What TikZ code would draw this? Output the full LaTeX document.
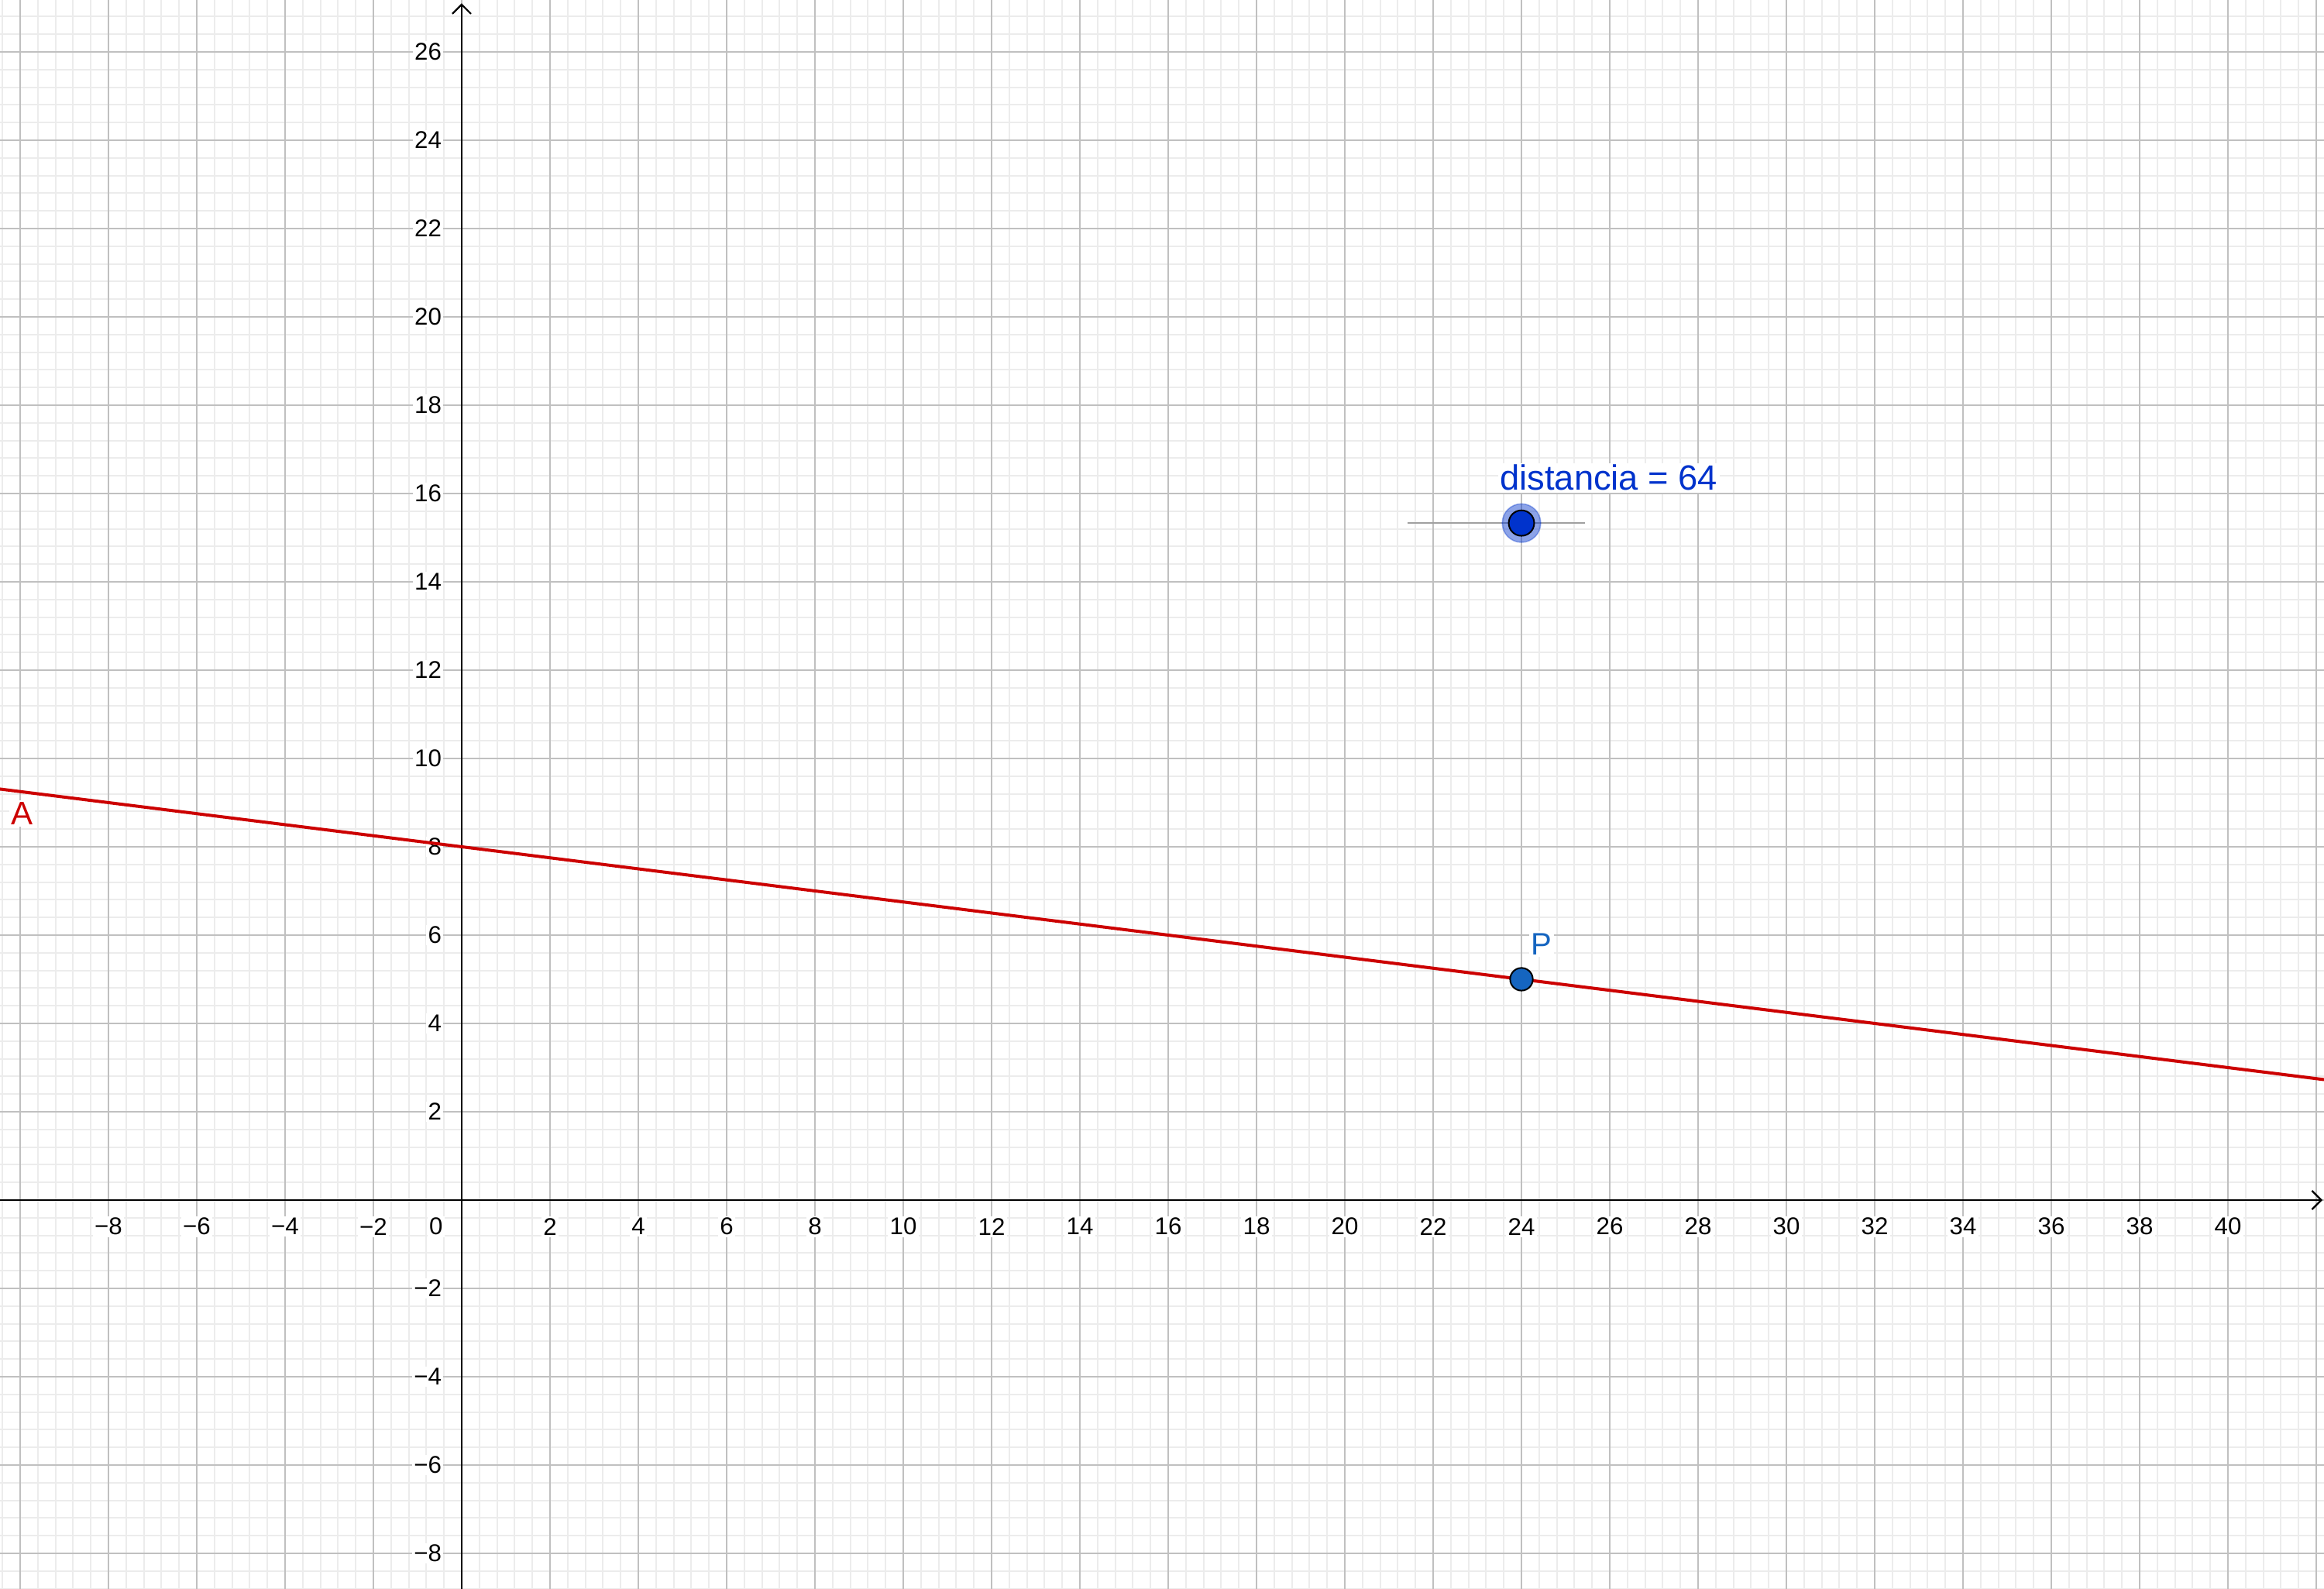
\documentclass[tikz,border=0pt]{standalone}
\usepackage{fontspec}
\setmainfont{Liberation Sans}
\usetikzlibrary{arrows.meta}
\definecolor{majorgrid}{RGB}{192,192,192}
\definecolor{minorgrid}{RGB}{236,236,236}
\definecolor{linered}{RGB}{204,0,0}
\definecolor{pblue}{RGB}{21,101,192}
\definecolor{sblue}{RGB}{0,51,204}
\definecolor{slidergray}{RGB}{160,160,160}
\begin{document}
\begin{tikzpicture}[x=0.5cm,y=0.5cm,
  ticklab/.style={font=\fontsize{7.8pt}{9pt}\selectfont, inner sep=0.6pt, fill=white, text=black},
  lab/.style={inner sep=0.6pt, fill=white},
  axisline/.style={black, line width=0.55pt, -{Straight Barb[length=3pt,width=6pt]}},
  gpoint/.style={circle, draw=black, line width=0.5pt, inner sep=0pt}]
\useasboundingbox (-10.456,-8.807) rectangle (42.175,27.175);
\fill[white] (-10.456,-8.807) rectangle (42.175,27.175);
% grid
\draw[minorgrid, line width=0.5pt, step=0.4] (-10.456,-8.807) grid (42.175,27.175);
\draw[majorgrid, line width=0.5pt, step=2] (-10.456,-8.807) grid (42.175,27.175);
% axes
\coordinate (xs) at (-10.456,0);
\coordinate (xe) at (42.14,0);
\coordinate (ys) at (0,-8.807);
\coordinate (ye) at (0,27.10);
\draw[axisline] (xs) -- (xe);
\draw[axisline] (ys) -- (ye);
% tick labels
\foreach \x in {8,6,4,2}
  \node[ticklab] (xlm\x) at (-\x,-0.6) {−\x};
\node[ticklab] (xl0) at (-0.58,-0.6) {0};
\foreach \x in {2,4,...,40}
  \node[ticklab] (xl\x) at (\x,-0.6) {\x};
\foreach \y in {2,4,...,26}
  \node[ticklab, anchor=east] (yl\y) at (-0.4,\y) {\y};
\foreach \y in {2,4,6,8}
  \node[ticklab, anchor=east] (ylm\y) at (-0.4,-\y) {−\y};
% line A
\coordinate (la) at (-10.456,9.307);
\coordinate (lb) at (42.175,2.728);
\draw[linered, line width=1pt] (la) -- (lb);
\node[lab, text=linered, font=\fontsize{10.5pt}{12pt}\selectfont] (labA) at (-9.95,8.75) {A};
% point P
\node[gpoint, fill=pblue, minimum size=7.3pt] (P) at (24,5) {};
\node[lab, text=pblue, font=\fontsize{10pt}{12pt}\selectfont] (labP) at (24.46,5.8) {P};
% slider
\coordinate (s1) at (21.42,15.33);
\coordinate (s2) at (25.44,15.33);
\draw[slidergray, line width=0.35pt] (s1) -- (s2);
\node[circle, fill=sblue, fill opacity=0.45, draw=sblue, draw opacity=0.35, line width=0.4pt, minimum size=12.4pt, inner sep=0pt] (halo) at (24,15.33) {};
\node[gpoint, fill=sblue, minimum size=8.2pt] (S) at (24,15.33) {};
\node[lab, text=sblue, font=\fontsize{11.3pt}{13pt}\selectfont, anchor=base west] (labS) at (23.46,16.07) {distancia = 64};
\end{tikzpicture}
\end{document}
